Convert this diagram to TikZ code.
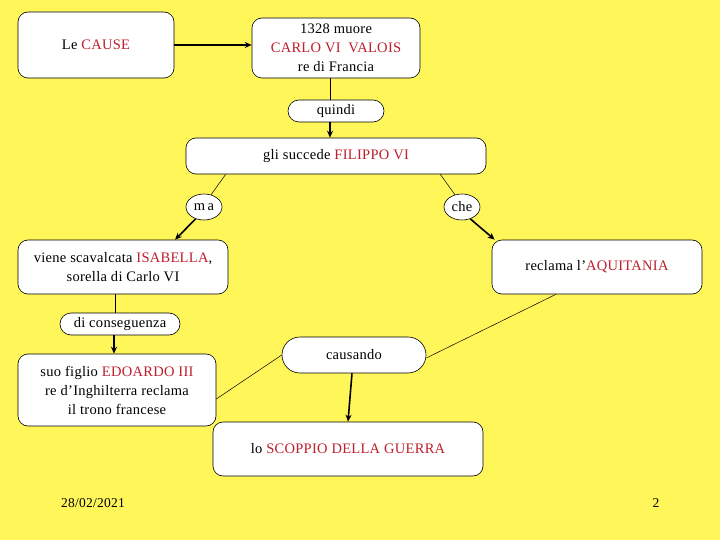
\documentclass[tikz,border=0pt]{standalone}
\usepackage{fontspec}
\setmainfont{Liberation Serif}[LetterSpace=2]
\usetikzlibrary{arrows.meta,shapes.geometric,calc}
\definecolor{bgy}{RGB}{255,246,90}
\definecolor{rd}{RGB}{190,30,45}
\tikzset{
  box/.style={draw=black,fill=white,rounded corners=10pt,line width=0.6pt,align=center,inner sep=0pt,font=\fontsize{14.5}{19}\selectfont},
  pill/.style={draw=black,fill=white,line width=0.6pt,align=center,inner sep=0pt,font=\fontsize{14.5}{15}\selectfont},
  oval/.style={draw=black,fill=white,ellipse,line width=0.6pt,inner sep=0pt,font=\fontsize{14.5}{15}\selectfont},
  thin/.style={line width=0.5pt},
  thick arrow/.style={line width=1.6pt,-{Stealth[length=7pt,width=6pt]}},
  foot/.style={font=\fontsize{13.5}{15}\selectfont}
}
\newcommand{\R}[1]{\textcolor{rd}{#1}}
\begin{document}
\begin{tikzpicture}[x=1pt,y=-1pt]
\fill[bgy] (0,0) rectangle (720,540);
\useasboundingbox (0,0) rectangle (720,540);

\node[box,minimum width=156pt,minimum height=66pt] (cause) at (96,45) {Le \R{CAUSE}};
\node[box,minimum width=168pt,minimum height=60pt] (carlo) at (336,48) {1328 muore\\\R{CARLO VI\ \ VALOIS}\\re di Francia};
\node[pill,rounded corners=11pt,minimum width=96pt,minimum height=22pt] (quindi) at (336,111) {quindi};
\node[box,minimum width=300pt,minimum height=36pt] (filippo) at (336,156) {gli succede \R{FILIPPO VI}};
\node[oval,minimum width=36pt,minimum height=26pt] (ma) at (204,207) {\raisebox{-1.5pt}{m\,a}};
\node[oval,minimum width=36pt,minimum height=26pt] (che) at (462,207) {che};
\node[box,minimum width=210pt,minimum height=54pt] (isabella) at (123,267) {viene scavalcata \R{ISABELLA},\\sorella di Carlo VI};
\node[box,minimum width=210pt,minimum height=54pt] (aquit) at (597,267) {reclama l’\R{AQUITANIA}};
\node[pill,rounded corners=11pt,minimum width=120pt,minimum height=22pt] (conseg) at (120,324) {di conseguenza};
\node[box,minimum width=198pt,minimum height=72pt] (edoardo) at (117,390) {suo figlio \R{EDOARDO III}\\re d’Inghilterra reclama\\il trono francese};
\node[pill,rounded corners=18pt,minimum width=144pt,minimum height=36pt] (causando) at (354,355) {causando};
\node[box,minimum width=270pt,minimum height=54pt] (scoppio) at (348,449) {lo \R{SCOPPIO DELLA GUERRA}};

\node[foot] (date) at (93,503) {28/02/2021};
\node[foot] (page) at (656,503) {2};

\draw[thick arrow] (cause.east) -- (cause.east -| carlo.west);
\draw[thin] ([xshift=-6pt]carlo.south) -- ([xshift=-6pt]quindi.north);
\draw[thick arrow] ([xshift=-6pt]quindi.south) -- ([xshift=-6pt]filippo.north);
\draw[thin] ($(filippo.south west)+(40,0)$) -- (ma.60);
\draw[thin] ($(filippo.south east)+(-46,0)$) -- (che.120);
\draw[thick arrow] (ma.235) -- ($(isabella.north)+(52,0)$);
\draw[thick arrow] (che.305) -- ($(aquit.north west)+(3,0)$);
\draw[thin] ([xshift=-8pt]isabella.south) -- ([xshift=-5pt]conseg.north);
\draw[thick arrow] ([xshift=-6pt]conseg.south) -- ([xshift=-3pt]edoardo.north);
\draw[thin] ([yshift=-9pt]edoardo.east) -- (causando.west);
\draw[thin] ([xshift=-41pt]aquit.south) -- ([yshift=-3pt]causando.east);
\draw[thick arrow] ([xshift=-2pt]causando.south) -- (scoppio.north);
\end{tikzpicture}
\end{document}
